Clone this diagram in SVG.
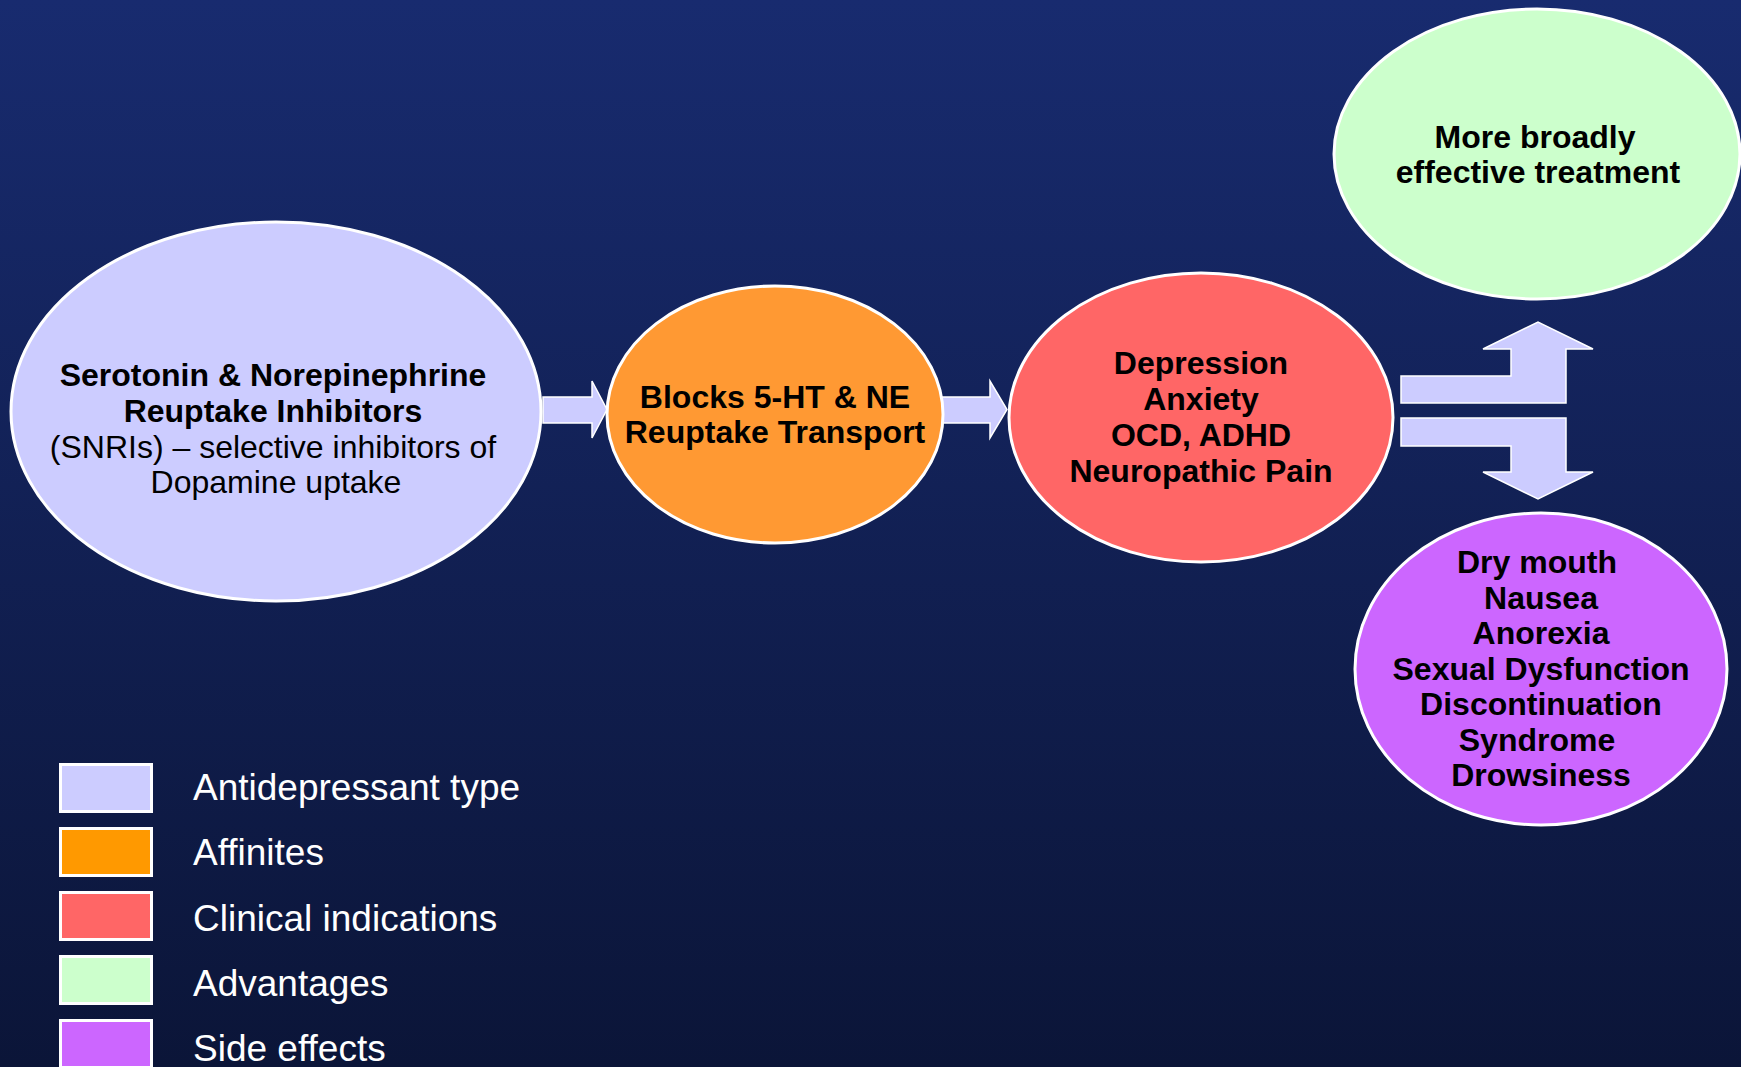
<svg xmlns="http://www.w3.org/2000/svg" width="1741" height="1067" viewBox="0 0 1741 1067">
<defs>
<linearGradient id="bg" x1="0" y1="0" x2="0" y2="1">
<stop offset="0" stop-color="#182B6F"/>
<stop offset="1" stop-color="#0B1538"/>
</linearGradient>
</defs>
<style>
.node{stroke:#FFFFFF;stroke-width:3}
.arrow{fill:#CCCCFF;stroke:#FFFFFF;stroke-width:1.5;stroke-linejoin:miter}
.b{font-family:"Liberation Sans",Arial,sans-serif;font-weight:bold;font-size:32px;fill:#000000;text-anchor:middle}
.r{font-family:"Liberation Sans",Arial,sans-serif;font-size:32px;fill:#000000;text-anchor:middle}
.lg{font-family:"Liberation Sans",Arial,sans-serif;font-size:37px;fill:#FFFFFF}
.key{stroke:#FFFFFF;stroke-width:3}
</style>
<rect x="0" y="0" width="1741" height="1067" fill="url(#bg)"/>

<g id="connectors">
<path class="arrow" d="M543,397 L592,397 L592,381 L607,409.5 L592,438 L592,423 L543,423 Z"/>
<path class="arrow" d="M942,397 L990,397 L990,381 L1007,409.5 L990,438 L990,423 L942,423 Z"/>
<path class="arrow" d="M1401,376 L1511,376 L1511,349 L1483,349 L1538,322 L1593,349 L1566,349 L1566,403 L1401,403 Z"/>
<path class="arrow" d="M1401,418 L1566,418 L1566,472 L1593,472 L1538,499 L1483,472 L1511,472 L1511,446 L1401,446 Z"/>
</g>

<g id="node-snri">
<ellipse class="node" cx="276" cy="411.5" rx="265" ry="189.5" fill="#CCCCFF"/>
<text class="b" x="273" y="386">Serotonin &amp; Norepinephrine</text>
<text class="b" x="273" y="422">Reuptake Inhibitors</text>
<text class="r" x="273" y="458">(SNRIs) – selective inhibitors of</text>
<text class="r" x="276" y="493">Dopamine uptake</text>
</g>

<g id="node-affinity">
<ellipse class="node" cx="775" cy="414.5" rx="168" ry="128.5" fill="#FF9933"/>
<text class="b" x="775" y="408">Blocks 5-HT &amp; NE</text>
<text class="b" x="775" y="443">Reuptake Transport</text>
</g>

<g id="node-clinical">
<ellipse class="node" cx="1201" cy="417.5" rx="192" ry="144.5" fill="#FF6666"/>
<text class="b" x="1201" y="374">Depression</text>
<text class="b" x="1201" y="410">Anxiety</text>
<text class="b" x="1201" y="446">OCD, ADHD</text>
<text class="b" x="1201" y="482">Neuropathic Pain</text>
</g>

<g id="node-advantages">
<ellipse class="node" cx="1537" cy="154" rx="203" ry="145" fill="#CCFFCC"/>
<text class="b" x="1535" y="148">More broadly</text>
<text class="b" x="1538" y="183">effective treatment</text>
</g>

<g id="node-sideeffects">
<ellipse class="node" cx="1541" cy="669" rx="186" ry="156" fill="#CC66FF"/>
<text class="b" x="1537" y="573">Dry mouth</text>
<text class="b" x="1541" y="608.5">Nausea</text>
<text class="b" x="1541" y="644">Anorexia</text>
<text class="b" x="1541" y="679.5">Sexual Dysfunction</text>
<text class="b" x="1541" y="715">Discontinuation</text>
<text class="b" x="1537" y="750.5">Syndrome</text>
<text class="b" x="1541" y="786">Drowsiness</text>
</g>

<g id="legend">
<rect class="key" x="60.5" y="764.5" width="91" height="47" fill="#CCCCFF"/>
<text class="lg" x="193" y="800">Antidepressant type</text>
<rect class="key" x="60.5" y="828.5" width="91" height="47" fill="#FF9900"/>
<text class="lg" x="193" y="865">Affinites</text>
<rect class="key" x="60.5" y="892.5" width="91" height="47" fill="#FF6666"/>
<text class="lg" x="193" y="931">Clinical indications</text>
<rect class="key" x="60.5" y="956.5" width="91" height="47" fill="#CCFFCC"/>
<text class="lg" x="193" y="996">Advantages</text>
<rect class="key" x="60.5" y="1020.5" width="91" height="47" fill="#CC66FF"/>
<text class="lg" x="193" y="1061">Side effects</text>
</g>
</svg>
